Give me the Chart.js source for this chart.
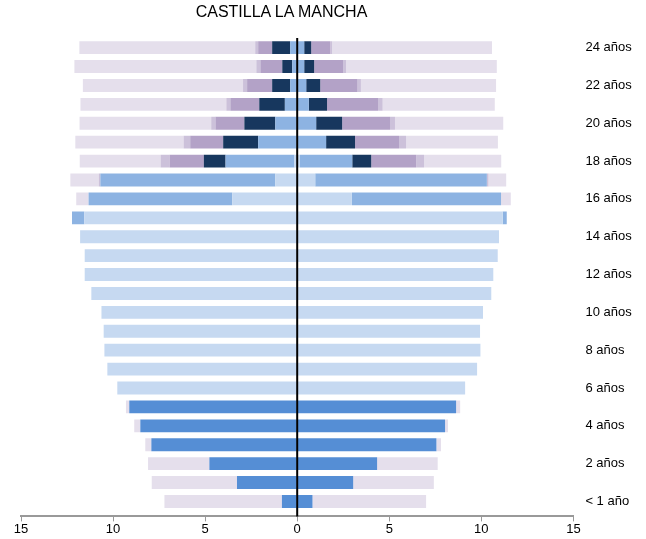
<!DOCTYPE html>
<html>
<head>
<meta charset="utf-8">
<script src="https://cdn.jsdelivr.net/npm/chart.js@4/dist/chart.umd.min.js"></script>
<style>
    body { margin: 0; background: #fff; }
    #wrap { position: relative; width: 646px; height: 539px; }
    #titulo {
        position: absolute; left: 0; top: 3px; width: 563px;
        line-height: 20px; text-align: center;
        font: 16px "Liberation Sans", Arial, sans-serif; color: #000;
    }
</style>
</head>
<body>
<div id="wrap">
    <div id="titulo">CASTILLA LA MANCHA</div>
    <canvas id="piramide" width="646" height="539"></canvas>
</div>
<script>
// edades de abajo (< 1 año) hacia arriba (24 años)
const edades = ['< 1 año', '1 año', '2 años', '3 años', '4 años', '5 años', '6 años', '7 años', '8 años',
    '9 años', '10 años', '11 años', '12 años', '13 años', '14 años', '15 años', '16 años', '17 años',
    '18 años', '19 años', '20 años', '21 años', '22 años', '23 años', '24 años'];
// solo se rotulan las edades pares
const ejeY = [0, 2, 4, 6, 8, 10, 12, 14, 16, 18, 20, 22, 24];
const ejeX = [-15, -10, -5, 0, 5, 10, 15];

// izquierda
const infantilIzq = [0.83, 3.27, 4.77, 7.92, 8.52, 9.12, 0, 0, 0, 0, 0, 0, 0, 0, 0, 0, 0, 0, 0, 0, 0, 0, 0, 0, 0];
const obligatoriaIzq = [0, 0, 0, 0, 0, 0, 9.77, 10.31, 10.47, 10.51, 10.63, 11.18, 11.54, 11.54, 11.79, 11.56, 3.53, 1.19, 0.15, 0, 0, 0, 0, 0, 0];
const secundariaIzq = [0, 0, 0, 0, 0, 0, 0, 0, 0, 0, 0, 0, 0, 0, 0, 0.67, 7.8, 9.5, 3.74, 2.12, 1.19, 0.67, 0.38, 0.27, 0.38];
const fpIzq = [0, 0, 0, 0, 0, 0, 0, 0, 0, 0, 0, 0, 0, 0, 0, 0, 0, 0, 1.18, 1.9, 1.68, 1.39, 0.98, 0.54, 0.98];
const universidadIzq = [0, 0, 0, 0, 0, 0, 0, 0, 0, 0, 0, 0, 0, 0, 0, 0, 0, 0, 1.86, 1.79, 1.57, 1.57, 1.36, 1.19, 0.76];
const otrosIzq = [0, 0, 0, 0, 0, 0, 0, 0, 0, 0, 0, 0, 0, 0, 0, 0, 0, 0.09, 0.49, 0.36, 0.23, 0.22, 0.22, 0.22, 0.16];
const noEscIzq = [6.38, 4.63, 3.33, 0.33, 0.33, 0.18, 0, 0, 0, 0, 0, 0, 0, 0, 0, 0, 0.67, 1.54, 4.39, 5.88, 7.15, 7.92, 8.7, 9.88, 9.55];

// derecha
const infantilDer = [0.83, 3.04, 4.34, 7.56, 8.03, 8.63, 0, 0, 0, 0, 0, 0, 0, 0, 0, 0, 0, 0, 0, 0, 0, 0, 0, 0, 0];
const obligatoriaDer = [0, 0, 0, 0, 0, 0, 9.12, 9.77, 9.95, 9.93, 10.09, 10.54, 10.65, 10.89, 10.96, 11.16, 2.97, 0.98, 0.13, 0, 0, 0, 0, 0, 0];
const secundariaDer = [0, 0, 0, 0, 0, 0, 0, 0, 0, 0, 0, 0, 0, 0, 0, 0.22, 8.1, 9.32, 2.86, 1.57, 1.03, 0.63, 0.49, 0.38, 0.38];
const fpDer = [0, 0, 0, 0, 0, 0, 0, 0, 0, 0, 0, 0, 0, 0, 0, 0, 0, 0, 1.03, 1.57, 1.41, 0.99, 0.76, 0.54, 0.38];
const universidadDer = [0, 0, 0, 0, 0, 0, 0, 0, 0, 0, 0, 0, 0, 0, 0, 0, 0, 0, 2.44, 2.39, 2.6, 2.77, 2.03, 1.57, 1.03];
const otrosDer = [0, 0, 0, 0, 0, 0, 0, 0, 0, 0, 0, 0, 0, 0, 0, 0, 0, 0.09, 0.43, 0.38, 0.27, 0.25, 0.18, 0.16, 0.11];
const noEscDer = [6.17, 4.38, 3.29, 0.25, 0.16, 0.22, 0, 0, 0, 0, 0, 0, 0, 0, 0, 0, 0.53, 0.96, 4.19, 4.99, 5.88, 6.09, 7.34, 8.19, 8.68];

const PIRAMIDE = {
    serie: function (label, valores, signo, color) {
        return {
            label: label,
            stack: 'p',
            backgroundColor: color,
            borderWidth: 0,
            data: valores.map(function (v, i) { return { x: signo * v, y: i }; })
        };
    },
    render: function () {
        var niveles = [
            ['Infantil', infantilIzq, infantilDer, '#558ED5'],
            ['Obligatoria', obligatoriaIzq, obligatoriaDer, '#C6D9F1'],
            ['Secundaria', secundariaIzq, secundariaDer, '#8DB3E2'],
            ['FP', fpIzq, fpDer, '#17375E'],
            ['Universidad', universidadIzq, universidadDer, '#B3A2C7'],
            ['Otros', otrosIzq, otrosDer, '#CCC1DA'],
            ['No escolarizados', noEscIzq, noEscDer, '#E5DFEC']
        ];
        var datasets = [];
        niveles.forEach(function (n) {
            datasets.push(PIRAMIDE.serie(n[0], n[1], -1, n[3]));
            datasets.push(PIRAMIDE.serie(n[0], n[2], 1, n[3]));
        });

        // linea vertical en el cero
        var lineaCero = {
            id: 'lineaCero',
            afterDatasetsDraw: function (chart) {
                var ctx = chart.ctx;
                var x = chart.scales.x.getPixelForValue(0);
                ctx.save();
                ctx.strokeStyle = '#000';
                ctx.lineWidth = 2;
                ctx.beginPath();
                ctx.moveTo(x, chart.chartArea.top);
                ctx.lineTo(x, chart.chartArea.bottom);
                ctx.stroke();
                ctx.restore();
            }
        };

        var ctx = document.getElementById('piramide').getContext('2d');
        window.piramide = new Chart(ctx, {
            type: 'bar',
            data: { datasets: datasets },
            plugins: [lineaCero],
            options: {
                indexAxis: 'y',
                responsive: false,
                animation: false,
                categoryPercentage: 1,
                barPercentage: 0.68,
                layout: { padding: { top: 38, left: 21, right: 0, bottom: 2 } },
                plugins: {
                    legend: { display: false },
                    tooltip: { enabled: false }
                },
                scales: {
                    x: {
                        type: 'linear',
                        stacked: true,
                        min: ejeX[0],
                        max: ejeX[ejeX.length - 1],
                        grid: { drawOnChartArea: false, tickLength: 5, color: '#999' },
                        border: { color: '#999', width: 2 },
                        ticks: {
                            stepSize: 5,
                            padding: 0,
                            color: '#000',
                            font: { family: '"Liberation Sans", Arial', size: 13 },
                            callback: function (v) { return Math.abs(v); }
                        }
                    },
                    y: {
                        type: 'linear',
                        position: 'right',
                        offset: false,
                        bounds: 'data',
                        min: -0.79,
                        max: 24.51,
                        grid: { display: false, drawTicks: false, offset: false },
                        border: { display: false },
                        afterBuildTicks: function (scale) {
                            scale.ticks = ejeY.map(function (v) { return { value: v }; });
                        },
                        afterFit: function (scale) { scale.width = 72.6; },
                        ticks: {
                            padding: 12,
                            color: '#000',
                            font: { family: '"Liberation Sans", Arial', size: 13 },
                            callback: function (v) { return edades[v]; }
                        }
                    }
                }
            }
        });
    }
};

PIRAMIDE.render();
</script>
</body>
</html>
